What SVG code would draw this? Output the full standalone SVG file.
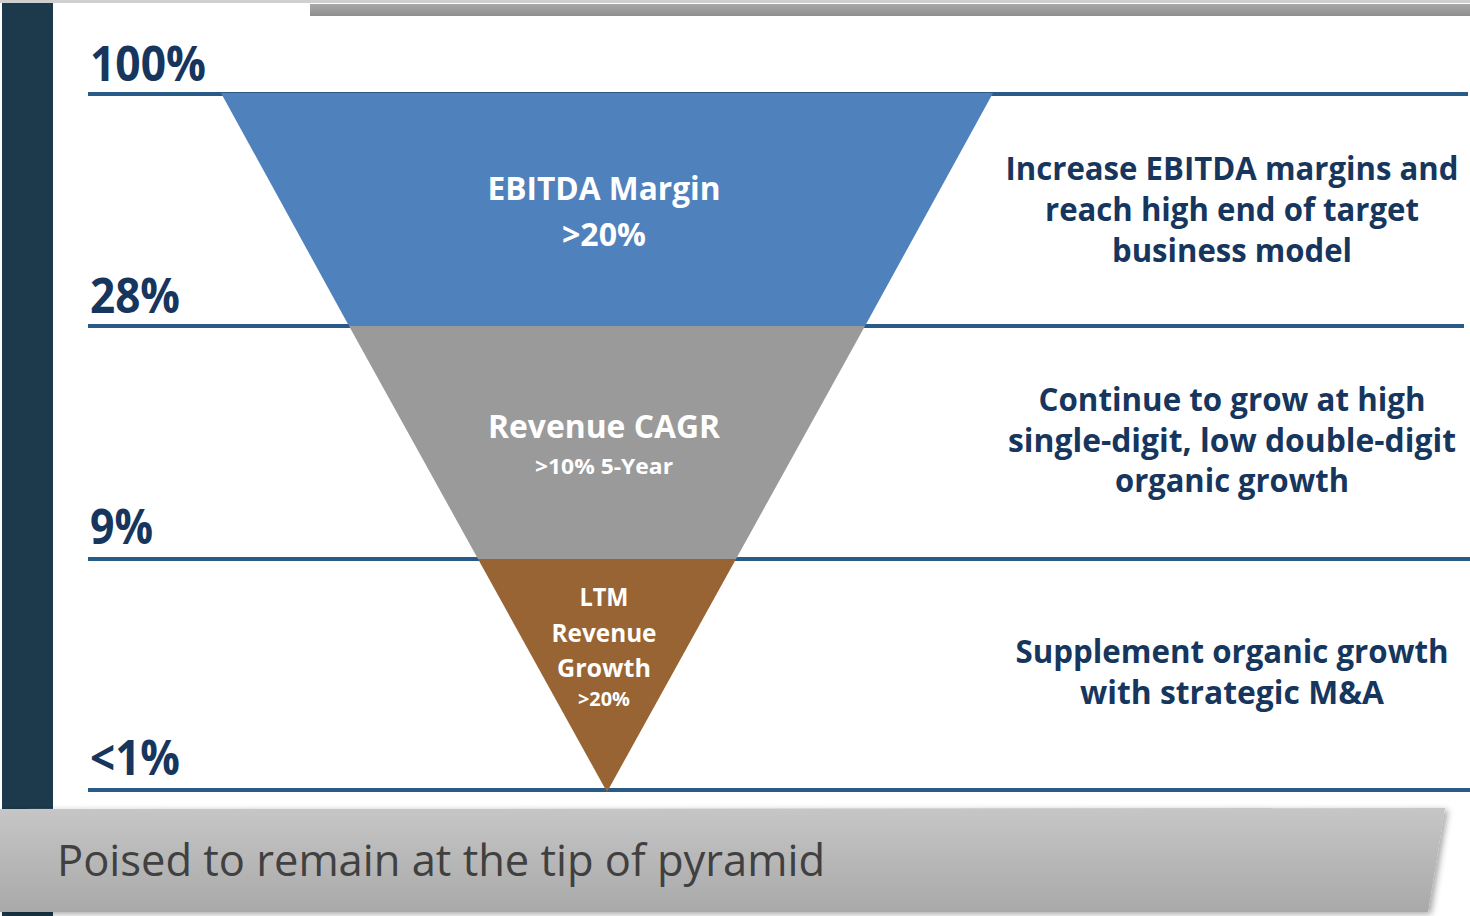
<svg xmlns="http://www.w3.org/2000/svg" width="1470" height="916" viewBox="0 0 1470 916">
<defs>
<linearGradient id="bannerG" x1="0" y1="0" x2="0" y2="1">
<stop offset="0" stop-color="#c6c6c6"/>
<stop offset="1" stop-color="#a9a9a9"/>
</linearGradient>
<linearGradient id="topG" x1="0" y1="0" x2="0" y2="1">
<stop offset="0" stop-color="#a8a8a8"/>
<stop offset="1" stop-color="#8e8e8e"/>
</linearGradient>
<filter id="sh" x="-5%" y="-20%" width="110%" height="140%">
<feDropShadow dx="3" dy="2" stdDeviation="3" flood-color="#000" flood-opacity="0.35"/>
</filter>
</defs>
<style>
.lvl{font-family:"Open Sans","Liberation Sans",sans-serif;font-weight:700;fill:#17365d;font-size:48px}
.desc{font-family:"Open Sans","Liberation Sans",sans-serif;font-weight:700;fill:#17365d;font-size:32px;text-anchor:middle}
.in{font-family:"Open Sans","Liberation Sans",sans-serif;font-weight:700;fill:#ffffff;text-anchor:middle}
.rule{stroke:#285b88;stroke-width:4;fill:none}
.banner{font-family:"Open Sans","Liberation Sans",sans-serif;font-size:44px;fill:#404040}
</style>
<rect x="0" y="0" width="1470" height="916" fill="#ffffff"/>
<rect x="0" y="0" width="1470" height="3" fill="#cfcfcf"/>
<rect x="310" y="4" width="1160" height="12" fill="url(#topG)"/>
<rect x="2" y="3" width="51" height="913" fill="#1c3a4b"/>

<g id="connectors">
<line class="rule" x1="88" y1="94" x2="1468" y2="94"/>
<line class="rule" x1="88" y1="326" x2="1464" y2="326"/>
<line class="rule" x1="88" y1="559" x2="1470" y2="559"/>
<line class="rule" x1="88" y1="790" x2="1470" y2="790"/>
</g>

<g id="labels-left">
<text class="lvl" x="90" y="81" textLength="116" lengthAdjust="spacingAndGlyphs">100%</text>
<text class="lvl" x="90" y="313" textLength="90" lengthAdjust="spacingAndGlyphs">28%</text>
<text class="lvl" x="90" y="544" textLength="63" lengthAdjust="spacingAndGlyphs">9%</text>
<text class="lvl" x="90" y="775" textLength="90" lengthAdjust="spacingAndGlyphs">&lt;1%</text>
</g>

<g id="tier-ebitda">
<polygon points="221,93 993,93 865,326 349,326" fill="#4f81bd"/>
<text class="in" x="604" y="200" font-size="32" textLength="233" lengthAdjust="spacingAndGlyphs">EBITDA Margin</text>
<text class="in" x="604" y="246" font-size="32" textLength="84" lengthAdjust="spacingAndGlyphs">&gt;20%</text>
</g>

<g id="tier-revenue">
<polygon points="349,326 865,326 736,559 478,559" fill="#9a9a9a"/>
<text class="in" x="604" y="438" font-size="32" textLength="232" lengthAdjust="spacingAndGlyphs">Revenue CAGR</text>
<text class="in" x="604" y="474" font-size="22" textLength="138" lengthAdjust="spacingAndGlyphs">&gt;10% 5-Year</text>
</g>

<g id="tier-ltm">
<polygon points="478,559 736,559 607,792" fill="#986434"/>
<text class="in" x="604" y="606" font-size="25" textLength="49" lengthAdjust="spacingAndGlyphs">LTM</text>
<text class="in" x="604" y="642" font-size="25" textLength="105" lengthAdjust="spacingAndGlyphs">Revenue</text>
<text class="in" x="604" y="677" font-size="25" textLength="94" lengthAdjust="spacingAndGlyphs">Growth</text>
<text class="in" x="604" y="706" font-size="19" textLength="52" lengthAdjust="spacingAndGlyphs">&gt;20%</text>
</g>

<g id="desc-ebitda">
<text class="desc" x="1232" y="180" textLength="453" lengthAdjust="spacingAndGlyphs">Increase EBITDA margins and</text>
<text class="desc" x="1232" y="221" textLength="374" lengthAdjust="spacingAndGlyphs">reach high end of target</text>
<text class="desc" x="1232" y="262" textLength="240" lengthAdjust="spacingAndGlyphs">business model</text>
</g>

<g id="desc-revenue">
<text class="desc" x="1232" y="411" textLength="387" lengthAdjust="spacingAndGlyphs">Continue to grow at high</text>
<text class="desc" x="1232" y="452" textLength="448" lengthAdjust="spacingAndGlyphs">single-digit, low double-digit</text>
<text class="desc" x="1232" y="492" textLength="234" lengthAdjust="spacingAndGlyphs">organic growth</text>
</g>

<g id="desc-ltm">
<text class="desc" x="1232" y="663" textLength="433" lengthAdjust="spacingAndGlyphs">Supplement organic growth</text>
<text class="desc" x="1232" y="704" textLength="304" lengthAdjust="spacingAndGlyphs">with strategic M&amp;A</text>
</g>

<g id="banner">
<polygon points="0,809 1445,808 1428,912 0,912" fill="url(#bannerG)" filter="url(#sh)"/>
<text class="banner" x="57" y="876" textLength="768" lengthAdjust="spacingAndGlyphs">Poised to remain at the tip of pyramid</text>
</g>
</svg>
